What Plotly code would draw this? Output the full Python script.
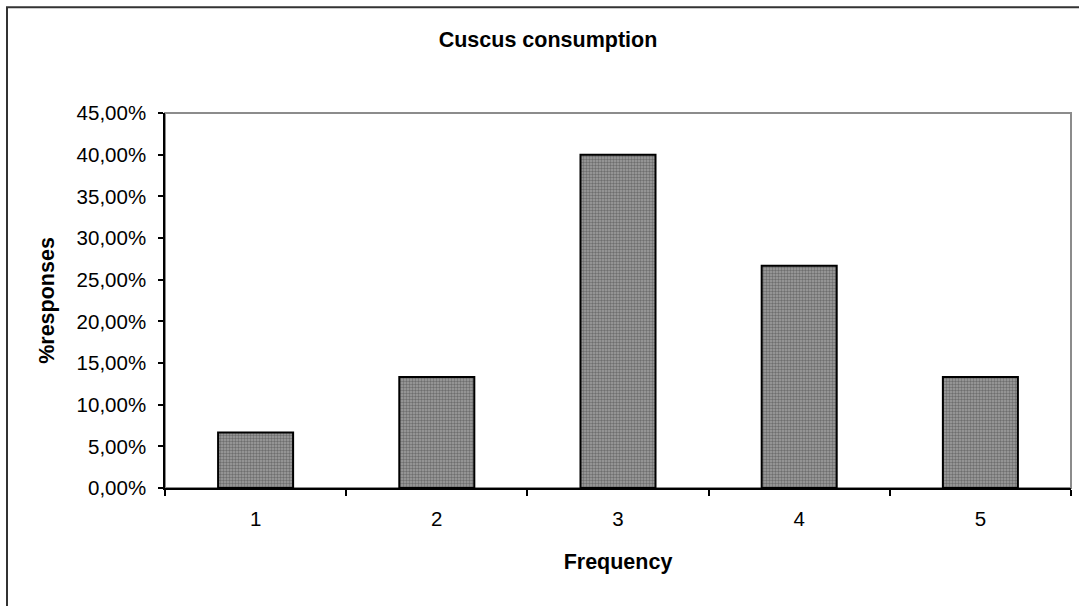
import plotly.graph_objects as go

# Survey results: how often cuscus is consumed
frequency = ["1", "2", "3", "4", "5"]
responses = [0.0667, 0.1333, 0.40, 0.2667, 0.1333]

y_tick_values = [0.00, 0.05, 0.10, 0.15, 0.20, 0.25, 0.30, 0.35, 0.40, 0.45]
y_tick_labels = ["0,00%", "5,00%", "10,00%", "15,00%", "20,00%",
                 "25,00%", "30,00%", "35,00%", "40,00%", "45,00%"]

FONT = "Liberation Sans, Arial, sans-serif"
TICK_SIZE = 20.5
TITLE_SIZE = 21.5

fig = go.Figure(
    go.Bar(
        x=frequency,
        y=responses,
        width=0.414,
        marker=dict(
            color="#8c8c8c",
            line=dict(color="#000000", width=2),
            pattern=dict(shape=".", fgcolor="#3c3c3c", bgcolor="#a0a0a0",
                         size=3, solidity=0.5),
        ),
        hovertemplate="%{x}: %{y:.2%}<extra></extra>",
    )
)

W, H = 1079, 606
L, R, T, B = 165, 8, 113, 117.5
pw, ph = W - L - R, H - T - B

def px_x(px):
    return (px - L) / pw

def px_y(py):
    return (H - B - py) / ph

fig.update_layout(
    width=W,
    height=H,
    margin=dict(l=L, r=R, t=T, b=B),
    paper_bgcolor="white",
    plot_bgcolor="white",
    showlegend=False,
    font=dict(family=FONT, size=TICK_SIZE, color="#000000"),
    title=dict(
        text="<b>Cuscus consumption</b>",
        font=dict(family=FONT, size=TITLE_SIZE, color="#000000"),
        x=px_x(548), xref="paper", xanchor="center",
        y=1 - 39 / H, yref="container", yanchor="middle",
    ),
    xaxis=dict(
        type="category",
        range=[-0.5, 4.5],
        showline=True, linecolor="#000000", linewidth=1.5,
        ticks="outside", ticklen=6, tickcolor="#000000", tickwidth=1.5,
        tickson="boundaries",
        ticklabelstandoff=12,
        showgrid=False, zeroline=False,
        tickfont=dict(family=FONT, size=TICK_SIZE, color="#000000"),
        title=dict(text="<b>Frequency</b>", standoff=25,
                   font=dict(family=FONT, size=TITLE_SIZE, color="#000000")),
    ),
    yaxis=dict(
        range=[0, 0.45],
        tickvals=y_tick_values,
        ticktext=y_tick_labels,
        showline=True, linecolor="#000000", linewidth=1.5,
        ticks="outside", ticklen=5, tickcolor="#000000", tickwidth=1.5,
        ticklabelstandoff=8,
        showgrid=False, zeroline=False,
        tickfont=dict(family=FONT, size=TICK_SIZE, color="#000000"),
        title=dict(text="<b>%responses</b>", standoff=16,
                   font=dict(family=FONT, size=TITLE_SIZE, color="#000000")),
    ),
    shapes=[
        # plot-area frame (top and right edges show in grey)
        dict(type="rect", xref="paper", yref="paper", x0=0, y0=0, x1=1, y1=1,
             line=dict(color="#8c8c8c", width=2), layer="below"),
        # outer chart border
        dict(type="rect", xref="paper", yref="paper",
             x0=px_x(7), y0=px_y(640), x1=px_x(1110), y1=px_y(7),
             line=dict(color="#333333", width=2), layer="below"),
    ],
)

fig.write_html("out.html")
